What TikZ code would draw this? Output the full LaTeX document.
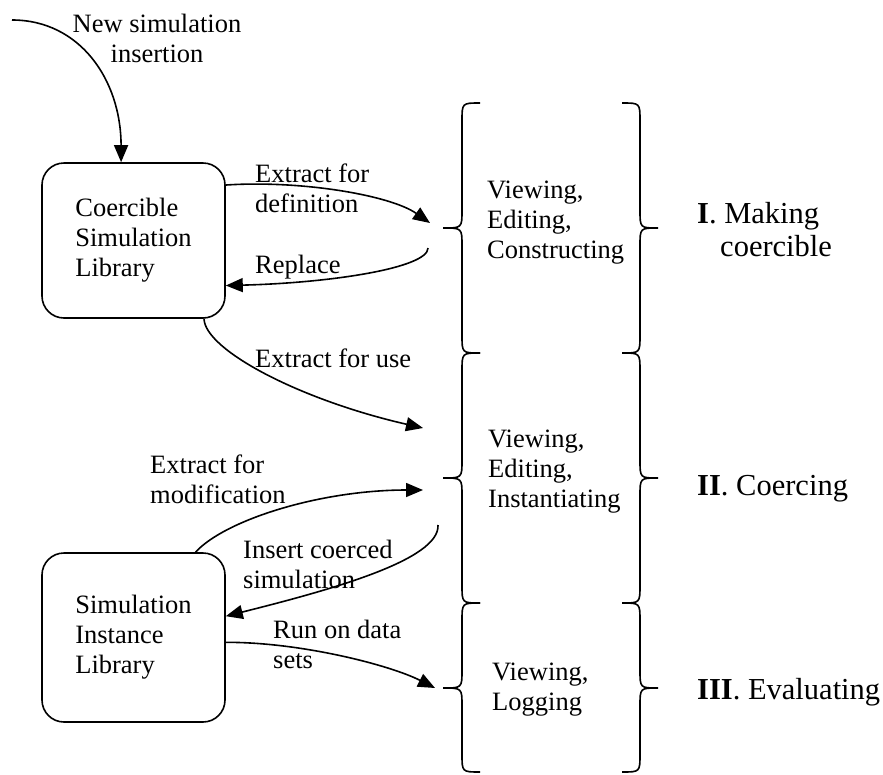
\documentclass[tikz,border=0pt]{standalone}
\usepackage{fontspec}
\setmainfont{Liberation Serif}
\usetikzlibrary{arrows.meta}
\begin{document}
\begin{tikzpicture}[x=1pt,y=-1pt,
    lib/.style={draw,line width=1.6pt,rounded corners=22pt,minimum
        width=183pt,align=left,font=\fontsize{26.5}{30}\selectfont},
    txt/.style={inner sep=0pt,align=left,anchor=base west,
        font=\fontsize{26.5}{30}\selectfont},
    phase/.style={inner sep=0pt,align=left,anchor=base west,
        font=\fontsize{30.5}{33}\selectfont},
    flow/.style={-{Triangle[length=17pt,width=14pt]},line width=1.6pt},
    brc/.style={line width=1.6pt}]

    \useasboundingbox (0,0) rectangle (883,774);

    % the libraries

    \node[lib,minimum height=155pt] (csl) at (133.5,240.5)
    {Coercible\\Simulation\\Library};
    \node[lib,minimum height=169pt] (sil) at (133.5,637.5)
    {Simulation\\Instance\\Library};

    % the braces

    \foreach \ya/\ym/\yb in {103/228/353,353/478/603,603/688/772}{
      \draw[brc] (480,\ya) .. controls (462,\ya) .. (462,\ya+18) --
      (462,\ym-18) .. controls (462,\ym) .. (443,\ym) .. controls
      (462,\ym) .. (462,\ym+18) -- (462,\yb-18) .. controls (462,\yb)
      .. (480,\yb);
      \draw[brc] (622,\ya) .. controls (640,\ya) .. (640,\ya+18) --
      (640,\ym-18) .. controls (640,\ym) .. (658,\ym) .. controls
      (640,\ym) .. (640,\ym+18) -- (640,\yb-18) .. controls (640,\yb)
      .. (622,\yb);
    }

    % the texts (placed at the baseline of their last line)

    \node[txt,align=center,anchor=base] (newt) at (157,62)
    {New simulation\\insertion};
    \node[txt] (defnt) at (255,212) {Extract for\\definition};
    \node[txt] (rept) at (255,273) {Replace};
    \node[txt] (uset) at (255,367) {Extract for use};
    \node[txt] (modt) at (150,503) {Extract for\\modification};
    \node[txt] (inst) at (243,588) {Insert coerced\\simulation};
    \node[txt] (runt) at (273,668) {Run on data\\sets};

    \node[txt] (act1) at (487,258) {Viewing,\\Editing,\\Constructing};
    \node[txt] (act2) at (488,507) {Viewing,\\Editing,\\Instantiating};
    \node[txt] (act3) at (492,710) {Viewing,\\Logging};

    \node[phase] (ph1) at (697,256)
    {\textbf{I}. Making\\\hspace*{23pt}coercible};
    \node[phase] (ph2) at (697,495) {\textbf{II}. Coercing};
    \node[phase] (ph3) at (697,699) {\textbf{III}. Evaluating};

    % the ends at the braces

    \coordinate (newin) at (12,20);
    \coordinate (defn) at (430,223);
    \coordinate (rep) at (428,248);
    \coordinate (usein) at (423,428);
    \coordinate (modin) at (423,490);
    \coordinate (insout) at (438,525);
    \coordinate (runin) at (435,688);

    % the arrows

    \draw[flow] (newin) .. controls (80,20) and (121,80) .. (csl.99);
    \draw[flow] (csl.31) .. controls (300,180) and (390,195) .. (defn);
    \draw[flow] (rep) .. controls (428,268) and (330,283) .. (csl.-26);
    \draw[flow] (csl.-48) .. controls (205,350) and (300,400) .. (usein);
    \draw[flow] (sil.54) .. controls (225,520) and (320,490) .. (modin);
    \draw[flow] (insout) .. controls (440,560) and (330,590) .. (sil.13);
    \draw[flow] (sil.-3) .. controls (300,642) and (390,665) .. (runin);
  \end{tikzpicture}
\end{document}
